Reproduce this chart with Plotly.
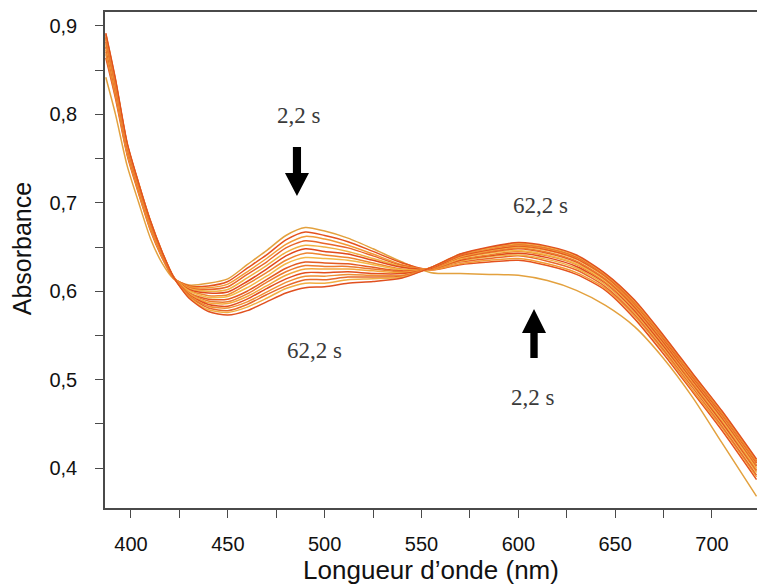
import plotly.graph_objects as go

# ---------------- data ----------------
wavelength_nm = [387, 392, 398, 404, 410, 416, 422, 430, 440, 450, 460, 470, 480, 490, 500,
                 512, 525, 540, 555, 570, 585, 600, 615, 630, 645, 660, 675, 690, 705, 723]

time_labels = ["2,2 s", "6,2 s", "10,2 s", "14,2 s", "18,2 s", "22,2 s", "26,2 s", "30,2 s",
               "34,2 s", "38,2 s", "42,2 s", "46,2 s", "50,2 s", "54,2 s", "58,2 s", "62,2 s"]

abs_t02_2 = [0.842, 0.800, 0.742, 0.700, 0.660, 0.632, 0.614, 0.607, 0.609, 0.614, 0.630, 0.646, 0.663, 0.672, 0.668, 0.660, 0.648, 0.633, 0.621, 0.620, 0.619, 0.618, 0.612, 0.601, 0.584, 0.560, 0.524, 0.480, 0.429, 0.368]
abs_t06_2 = [0.864, 0.818, 0.754, 0.710, 0.669, 0.638, 0.615, 0.606, 0.606, 0.611, 0.626, 0.641, 0.658, 0.667, 0.663, 0.656, 0.645, 0.632, 0.624, 0.630, 0.633, 0.635, 0.629, 0.619, 0.601, 0.569, 0.529, 0.486, 0.443, 0.387]
abs_t10_2 = [0.868, 0.821, 0.756, 0.711, 0.670, 0.639, 0.615, 0.605, 0.604, 0.608, 0.622, 0.637, 0.653, 0.662, 0.659, 0.652, 0.642, 0.630, 0.624, 0.631, 0.635, 0.637, 0.631, 0.621, 0.603, 0.572, 0.532, 0.488, 0.446, 0.390]
abs_t14_2 = [0.871, 0.823, 0.757, 0.713, 0.672, 0.640, 0.615, 0.604, 0.602, 0.605, 0.619, 0.633, 0.649, 0.657, 0.654, 0.649, 0.640, 0.629, 0.625, 0.633, 0.637, 0.640, 0.634, 0.624, 0.605, 0.574, 0.534, 0.491, 0.448, 0.392]
abs_t18_2 = [0.873, 0.825, 0.758, 0.714, 0.673, 0.640, 0.615, 0.603, 0.600, 0.602, 0.615, 0.629, 0.644, 0.652, 0.650, 0.645, 0.637, 0.628, 0.625, 0.634, 0.639, 0.641, 0.636, 0.626, 0.607, 0.576, 0.536, 0.493, 0.450, 0.395]
abs_t22_2 = [0.876, 0.827, 0.760, 0.715, 0.674, 0.641, 0.615, 0.602, 0.598, 0.599, 0.611, 0.625, 0.640, 0.648, 0.645, 0.642, 0.635, 0.627, 0.625, 0.635, 0.640, 0.643, 0.638, 0.628, 0.609, 0.578, 0.538, 0.495, 0.452, 0.397]
abs_t26_2 = [0.878, 0.829, 0.761, 0.716, 0.674, 0.641, 0.615, 0.601, 0.595, 0.596, 0.608, 0.621, 0.635, 0.643, 0.641, 0.638, 0.632, 0.625, 0.625, 0.636, 0.641, 0.645, 0.640, 0.630, 0.610, 0.580, 0.540, 0.496, 0.454, 0.398]
abs_t30_2 = [0.880, 0.830, 0.762, 0.717, 0.675, 0.642, 0.616, 0.600, 0.593, 0.594, 0.604, 0.617, 0.631, 0.638, 0.637, 0.635, 0.630, 0.624, 0.626, 0.637, 0.643, 0.646, 0.641, 0.631, 0.612, 0.581, 0.541, 0.498, 0.455, 0.400]
abs_t34_2 = [0.882, 0.832, 0.763, 0.718, 0.676, 0.642, 0.616, 0.598, 0.591, 0.591, 0.600, 0.613, 0.626, 0.633, 0.632, 0.631, 0.627, 0.623, 0.626, 0.638, 0.644, 0.648, 0.643, 0.633, 0.613, 0.582, 0.542, 0.499, 0.457, 0.402]
abs_t38_2 = [0.884, 0.834, 0.764, 0.719, 0.677, 0.643, 0.616, 0.598, 0.589, 0.588, 0.597, 0.610, 0.622, 0.629, 0.628, 0.628, 0.625, 0.622, 0.626, 0.639, 0.645, 0.649, 0.644, 0.634, 0.614, 0.584, 0.544, 0.501, 0.459, 0.403]
abs_t42_2 = [0.886, 0.835, 0.765, 0.719, 0.677, 0.643, 0.616, 0.597, 0.587, 0.586, 0.594, 0.606, 0.618, 0.625, 0.625, 0.625, 0.623, 0.621, 0.626, 0.639, 0.646, 0.650, 0.646, 0.636, 0.616, 0.585, 0.545, 0.502, 0.460, 0.405]
abs_t46_2 = [0.887, 0.836, 0.765, 0.720, 0.678, 0.644, 0.616, 0.596, 0.585, 0.583, 0.591, 0.603, 0.614, 0.621, 0.621, 0.622, 0.620, 0.620, 0.626, 0.640, 0.647, 0.651, 0.647, 0.637, 0.617, 0.586, 0.546, 0.503, 0.461, 0.406]
abs_t50_2 = [0.888, 0.837, 0.766, 0.721, 0.679, 0.644, 0.616, 0.595, 0.583, 0.581, 0.588, 0.599, 0.610, 0.617, 0.617, 0.619, 0.618, 0.618, 0.627, 0.641, 0.648, 0.652, 0.648, 0.638, 0.618, 0.587, 0.547, 0.504, 0.462, 0.407]
abs_t54_2 = [0.890, 0.838, 0.767, 0.721, 0.679, 0.644, 0.616, 0.594, 0.581, 0.578, 0.585, 0.596, 0.606, 0.613, 0.613, 0.616, 0.616, 0.617, 0.627, 0.641, 0.649, 0.653, 0.649, 0.639, 0.618, 0.588, 0.548, 0.505, 0.463, 0.408]
abs_t58_2 = [0.891, 0.839, 0.767, 0.722, 0.680, 0.645, 0.616, 0.593, 0.579, 0.576, 0.582, 0.592, 0.603, 0.609, 0.609, 0.613, 0.614, 0.616, 0.627, 0.642, 0.649, 0.654, 0.650, 0.640, 0.619, 0.589, 0.549, 0.506, 0.464, 0.409]
abs_t62_2 = [0.892, 0.840, 0.768, 0.722, 0.680, 0.645, 0.616, 0.592, 0.577, 0.573, 0.578, 0.588, 0.598, 0.604, 0.605, 0.609, 0.611, 0.615, 0.627, 0.642, 0.650, 0.655, 0.651, 0.641, 0.620, 0.590, 0.550, 0.507, 0.465, 0.410]

spectra = [abs_t02_2, abs_t06_2, abs_t10_2, abs_t14_2, abs_t18_2, abs_t22_2, abs_t26_2, abs_t30_2,
           abs_t34_2, abs_t38_2, abs_t42_2, abs_t46_2, abs_t50_2, abs_t54_2, abs_t58_2, abs_t62_2]

line_colors = ["#E3A13E", "#E4521E", "#F29A35", "#E8652A", "#F0B143", "#E0481C", "#EE8530", "#F4B848",
               "#E35A22", "#EC7A2E", "#F3A73D", "#E24E1E", "#EF8F33", "#E6682A", "#F2AE42", "#E0501F"]

# ---------------- figure ----------------
fig = go.Figure()
for name, ys, col in zip(time_labels, spectra, line_colors):
    fig.add_trace(go.Scatter(
        x=wavelength_nm, y=ys, mode="lines", name=name,
        line=dict(color=col, width=1.5, shape="spline", smoothing=0.7),
        showlegend=False, hoverinfo="x+y+name"))

X0, X1 = 386.58, 723.24
Y0, Y1 = 0.3548, 0.9158

axis_col = "#4a4a4a"
tick_font = dict(family="Liberation Sans, Arial, sans-serif", size=20, color="#111111")
title_font = dict(family="Liberation Sans, Arial, sans-serif", size=26, color="#111111")

fig.update_xaxes(
    range=[X0, X1], showgrid=False, zeroline=False, automargin=False,
    showline=True, linecolor=axis_col, linewidth=1.5, mirror=True,
    tickmode="linear", tick0=400, dtick=50, ticks="outside", ticklen=8, tickwidth=1,
    tickcolor=axis_col, tickfont=tick_font, ticklabelstandoff=9,
    minor=dict(tickmode="linear", tick0=400, dtick=25, ticks="outside", ticklen=8,
               tickwidth=1, tickcolor=axis_col, showgrid=False),
    title=dict(text="Longueur d’onde (nm)", standoff=4, font=title_font),
)
fig.update_yaxes(
    range=[Y0, Y1], showgrid=False, zeroline=False, automargin=False,
    showline=True, linecolor=axis_col, linewidth=1.5, mirror=False,
    tickmode="linear", tick0=0.4, dtick=0.1, tickformat=".1f",
    ticks="outside", ticklen=8, tickwidth=1, tickcolor=axis_col, tickfont=tick_font,
    ticklabelstandoff=14,
    minor=dict(tickmode="linear", tick0=0.4, dtick=0.05, ticks="outside", ticklen=8,
               tickwidth=1, tickcolor=axis_col, showgrid=False),
)

# arrows drawn as filled shapes (data coordinates)
def arrow_path(xc, x_half_shaft, x_half_head, y_tail, y_base, y_tip):
    return (f"M {xc - x_half_shaft},{y_tail} L {xc + x_half_shaft},{y_tail} "
            f"L {xc + x_half_shaft},{y_base} L {xc + x_half_head},{y_base} "
            f"L {xc},{y_tip} L {xc - x_half_head},{y_base} L {xc - x_half_shaft},{y_base} Z")

shapes = [
    dict(type="path", xref="x", yref="y", fillcolor="#000000", line=dict(width=0),
         path=arrow_path(485.7, 2.1, 6.2, 0.7631, 0.7337, 0.7077)),
    dict(type="path", xref="x", yref="y", fillcolor="#000000", line=dict(width=0),
         path=arrow_path(608.1, 1.9, 6.2, 0.5244, 0.5527, 0.5798)),
]

ann_font = dict(family="Liberation Serif, Times New Roman, serif", size=23, color="#3a3a3a")
annotations = [
    dict(x=486.7, y=0.7993, xref="x", yref="y", text="2,2 s", showarrow=False, font=ann_font),
    dict(x=495.0, y=0.5334, xref="x", yref="y", text="62,2 s", showarrow=False, font=ann_font),
    dict(x=611.2, y=0.6975, xref="x", yref="y", text="62,2 s", showarrow=False, font=ann_font),
    dict(x=607.6, y=0.4803, xref="x", yref="y", text="2,2 s", showarrow=False, font=ann_font),
    # y-axis title
    dict(x=-0.127, y=0.522, xref="paper", yref="paper", text="Absorbance", textangle=-90,
         showarrow=False, xanchor="center", yanchor="middle",
         font=dict(family="Liberation Sans, Arial, sans-serif", size=25, color="#111111")),
]

fig.update_layout(
    width=757, height=585,
    margin=dict(l=105, r=0, t=12, b=77),
    paper_bgcolor="white", plot_bgcolor="white",
    separators=", ",
    shapes=shapes, annotations=annotations,
)

fig.write_html(
    "out.html",
    config={"displayModeBar": False},
    post_script="document.body.style.margin='0';document.body.style.overflow='hidden';",
)
